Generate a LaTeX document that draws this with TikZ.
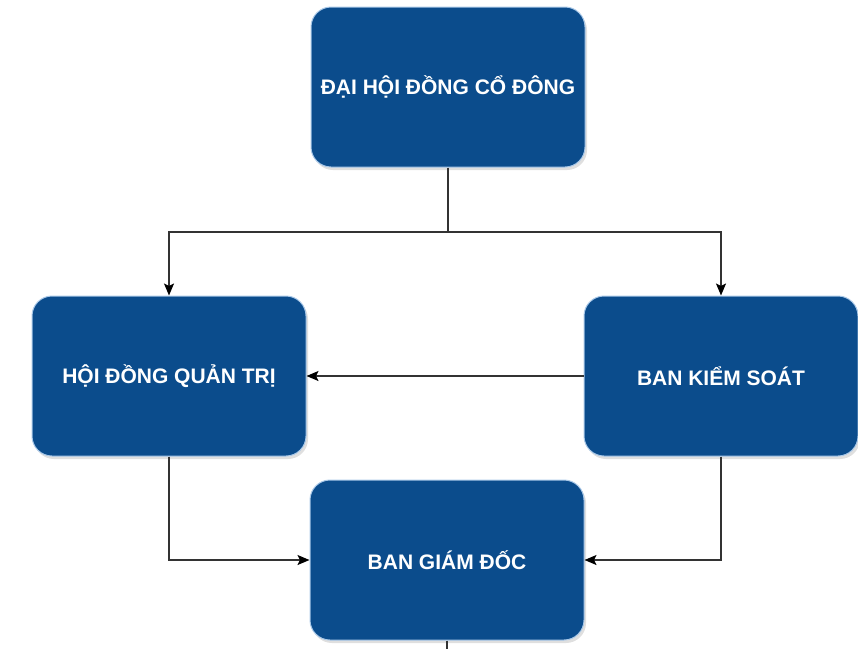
\documentclass[tikz,border=0pt]{standalone}
\usepackage{xcolor}
\usepackage{fontspec}
\setmainfont{Liberation Sans}
\usepackage{tikz}
\usetikzlibrary{positioning,arrows.meta,shadows}
\definecolor{boxblue}{HTML}{0B4C8C}
\definecolor{boxedge}{HTML}{A9C8E8}
\definecolor{linegray}{HTML}{333333}

\begin{document}
\begin{tikzpicture}[x=1pt,y=-1pt,
  unit/.style={rectangle, rounded corners=20pt, fill=boxblue, draw=boxedge, line width=1pt,
    minimum width=274pt, minimum height=160pt, text=white,
    font=\bfseries\fontsize{21}{25}\selectfont,
    drop shadow={shadow xshift=2pt, shadow yshift=-3pt, opacity=0.25}},
  link/.style={linegray, line width=1.6pt},
  arrow/.style={link, -{Stealth[length=12pt, width=10pt, inset=2.5pt, color=black]}}]
\useasboundingbox (0,0) rectangle (858,648);
\node[unit] (dhdcd) at (448,87) {ĐẠI HỘI ĐỒNG CỔ ĐÔNG};
\node[unit] (hdqt) at (169,376) {HỘI ĐỒNG QUẢN TRỊ};
\node[unit] (bks) at (721,376) {BAN KIỂM SOÁT};
\node[unit] (bgd) at (447,560) {BAN GIÁM ĐỐC};
\coordinate (split) at (448,232);
\coordinate (exit) at (447,652);
\draw[link] (dhdcd.south) -- (split);
\draw[arrow] (split) -| (hdqt.north);
\draw[arrow] (split) -| (bks.north);
\draw[arrow] (bks.west) -- (hdqt.east);
\draw[arrow] (hdqt.south) |- (bgd.west);
\draw[arrow] (bks.south) |- (bgd.east);
\draw[link] (bgd.south) -- (exit);
\end{tikzpicture}
\end{document}
